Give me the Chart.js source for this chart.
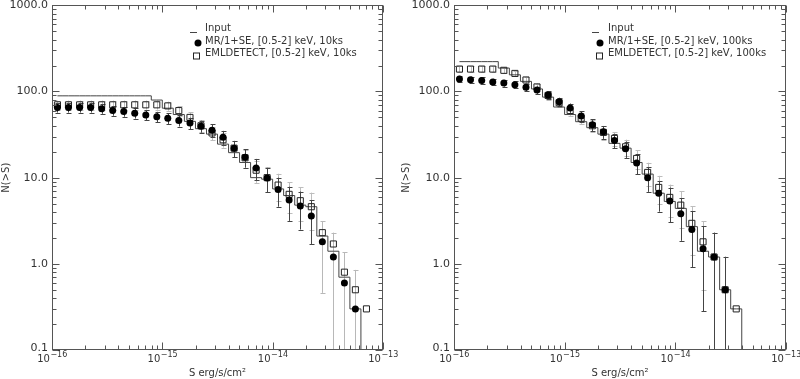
<!DOCTYPE html>
<html>
<head>
<meta charset="utf-8">
<script src="https://cdn.jsdelivr.net/npm/chart.js@4.4.1/dist/chart.umd.min.js"></script>
<style>
  body { margin: 0; background: #fff; }
  canvas { display: block; float: left; }
</style>
</head>
<body>
<canvas id="left" width="400" height="379"></canvas>
<canvas id="right" width="400" height="379"></canvas>
<script>
// flux bin centres, erg/s/cm^2
const fluxBins = [
  1.12e-16, 1.41e-16, 1.78e-16, 2.24e-16, 2.82e-16, 3.55e-16, 4.47e-16, 5.62e-16, 7.08e-16, 8.91e-16,
  1.12e-15, 1.41e-15, 1.78e-15, 2.24e-15, 2.82e-15, 3.55e-15, 4.47e-15, 5.62e-15, 7.08e-15, 8.91e-15,
  1.12e-14, 1.41e-14, 1.78e-14, 2.24e-14, 2.82e-14, 3.55e-14, 4.47e-14, 5.62e-14, 7.08e-14
];

// 10 ks panel
const input10 = [89, 89, 89, 89, 89, 89, 89, 89, 89, 79.5, 64, 54, 45, 37, 32, 24.5, 19.5, 15, 10, 9.6,
  7.4, 6.2, 4.8, 4.6, 2.1, 1.4, 0.7, 0.3, 0.01];
const mr10 = [65, 65, 65, 65, 63, 60, 58.5, 56, 53.5, 51, 49, 46, 43, 39.5, 35.5, 29.5, 22, 17.3, 12.9, 9.9,
  7.3, 5.5, 4.7, 3.6, 1.8, 1.2, 0.6, 0.3];
const mr10Err = [8.1, 8.1, 8.1, 8.1, 7.9, 7.7, 7.6, 7.5, 7.3, 7.1, 7.0, 6.8, 6.6, 6.3, 6.0, 5.4, 4.7, 4.2, 3.6, 3.1,
  2.7, 2.35, 2.2, 1.9, 1.34, 1.1, 0.77, 0.55];
const eml10 = [70, 70, 70, 70, 70, 70, 70, 70, 70, 70, 68, 60, 50, 40, 33, 27.5, 22, 17, 12.2, 10,
  8.2, 6.4, 5.4, 4.6, 2.3, 1.7, 0.8, 0.5, 0.3];
const eml10Err = [8.4, 8.4, 8.4, 8.4, 8.4, 8.4, 8.4, 8.4, 8.4, 8.4, 8.2, 7.7, 7.1, 6.3, 5.7, 5.2, 4.7, 4.1, 3.5, 3.2,
  2.9, 2.5, 2.3, 2.1, null, null, null, null, null];

// 100 ks panel
const input100 = [222, 222, 222, 222, 187, 156, 131, 107, 86, 66, 54, 44.6, 38, 32, 25, 22, 15, 11, 6.6, 5.3,
  4.4, 2.7, 1.4, 1.2, 0.5, 0.3, 0.01];
const mr100 = [140, 137, 134, 129, 125, 120, 112, 104, 91, 76, 64.5, 52, 41, 34, 27, 21.6, 14.8, 10, 6.6, 5.35,
  3.8, 2.5, 1.5, 1.2, 0.5];
const mr100Err = [11.8, 11.7, 11.6, 11.4, 11.2, 11.0, 10.6, 10.2, 9.5, 8.7, 8.0, 7.2, 6.4, 5.8, 5.2, 4.65, 3.85, 3.16, 2.57, 2.31,
  1.95, 1.58, 1.22, 1.1, 0.71];
const eml100 = [182, 182, 182, 182, 176, 162, 136, 113, 90, 74, 60, 49, 40, 33.5, 28.5, 22.8, 16.7, 11.5, 7.7, 5.9,
  4.8, 2.95, 1.8, 1.2, 0.5, 0.3];
const eml100Err = [13.5, 13.5, 13.5, 13.5, 13.3, 12.7, 11.7, 10.6, 9.5, 8.6, 7.7, 7.0, 6.3, 5.8, 5.3, 4.8, 4.1, 3.4, 2.8, 2.4,
  2.2, 1.7, 1.3, 1.1, null, null];

const legend10 = ['Input', 'MR/1+SE, [0.5-2] keV, 10ks', 'EMLDETECT, [0.5-2] keV, 10ks'];
const legend100 = ['Input', 'MR/1+SE, [0.5-2] keV, 100ks', 'EMLDETECT, [0.5-2] keV, 100ks'];

const xDecades = [1e-16, 1e-15, 1e-14, 1e-13];
const xTickExponents = ['−16', '−15', '−14', '−13'];
const yDecades = [0.1, 1, 10, 100, 1000];
const yTickLabels = ['0.1', '1.0', '10.0', '100.0', '1000.0'];

const FONT = 'DejaVu Sans';
const INK = '#333';
const AXIS = '#555';

const toPoints = (vals) => vals.map((v, i) => ({ x: fluxBins[i], y: v }));

// vertical error bars, drawn under the markers
const errorBars = {
  id: 'errorBars',
  beforeDatasetsDraw(chart) {
    const { ctx, chartArea: a, scales: { x, y } } = chart;
    ctx.save();
    ctx.beginPath();
    ctx.rect(a.left, a.top, a.right - a.left, a.bottom - a.top);
    ctx.clip();
    ctx.lineWidth = 1;
    const sets = chart.data.datasets.filter(d => d.errors).sort((p, q) => q.order - p.order);
    sets.forEach(ds => {
      ds.data.forEach((p, i) => {
        const e = ds.errors[i];
        if (e == null) return;
        const px = Math.round(x.getPixelForValue(p.x)) + 0.5;
        const top = y.getPixelForValue(p.y + e);
        const low = p.y - e;
        const bot = low > 0 ? y.getPixelForValue(low) : a.bottom;
        ctx.strokeStyle = (ds.grayFrom != null && i >= ds.grayFrom) ? '#b8b8b8' : ds.errorColor;
        ctx.beginPath();
        ctx.moveTo(px, top); ctx.lineTo(px, bot);
        ctx.moveTo(px - 2, Math.round(top) + 0.5); ctx.lineTo(px + 3, Math.round(top) + 0.5);
        if (low > 0) { ctx.moveTo(px - 2, Math.round(bot) + 0.5); ctx.lineTo(px + 3, Math.round(bot) + 0.5); }
        ctx.stroke();
      });
    });
    ctx.restore();
  }
};

// box frame with inward ticks on all four sides, tick labels, and the legend
const frame = {
  id: 'frame',
  afterDraw(chart, args, opts) {
    const { ctx, chartArea: a, scales: { x, y } } = chart;
    ctx.save();
    ctx.strokeStyle = AXIS;
    ctx.lineWidth = 1;
    const L = Math.round(a.left) + 0.5, R = Math.round(a.right) - 0.5;
    const T = Math.round(a.top) + 0.5, B = Math.round(a.bottom) - 0.5;
    ctx.strokeRect(L, T, R - L, B - T);

    ctx.beginPath();
    for (let d = 0; d < xDecades.length; d++) {
      for (let m = 1; m < 10; m++) {
        const v = xDecades[d] * m;
        if (v > 1e-13 * 1.0001) break;
        const px = Math.round(x.getPixelForValue(v)) + 0.5;
        const len = m === 1 ? 7 : 4;
        ctx.moveTo(px, B); ctx.lineTo(px, B - len);
        ctx.moveTo(px, T); ctx.lineTo(px, T + len);
      }
    }
    for (let d = 0; d < yDecades.length; d++) {
      for (let m = 1; m < 10; m++) {
        const v = yDecades[d] * m;
        if (v > 1000 * 1.0001) break;
        const py = Math.round(y.getPixelForValue(v)) + 0.5;
        const len = m === 1 ? 7 : 4;
        ctx.moveTo(L, py); ctx.lineTo(L + len, py);
        ctx.moveTo(R, py); ctx.lineTo(R - len, py);
      }
    }
    ctx.stroke();

    // y tick labels
    ctx.fillStyle = INK;
    ctx.font = '11px "' + FONT + '"';
    ctx.textAlign = 'right';
    ctx.textBaseline = 'middle';
    yDecades.forEach((v, i) => {
      const py = Math.max(y.getPixelForValue(v), 5);
      ctx.fillText(yTickLabels[i], a.left - 4, Math.min(py, a.bottom - 2));
    });

    // x tick labels: 10 with a raised exponent
    ctx.textAlign = 'left';
    ctx.textBaseline = 'alphabetic';
    xDecades.forEach((v, i) => {
      const px = x.getPixelForValue(v);
      ctx.font = '10px "' + FONT + '"';
      const wb = ctx.measureText('10').width;
      ctx.font = '8px "' + FONT + '"';
      const we = ctx.measureText(xTickExponents[i]).width;
      const x0 = px - (wb + we) / 2;
      ctx.font = '10px "' + FONT + '"';
      ctx.fillText('10', x0, 362);
      ctx.font = '8px "' + FONT + '"';
      ctx.fillText(xTickExponents[i], x0 + wb + 0.5, 357);
    });

    // legend
    const lg = opts.legend;
    ctx.font = '10px "' + FONT + '"';
    ctx.textAlign = 'left';
    ctx.textBaseline = 'middle';
    const labels = chart.data.datasets.map(d => d.label);
    ctx.fillText(labels[0], lg.textX, 28.5);
    ctx.fillText(labels[1], lg.textX, 41);
    ctx.fillText(labels[2], lg.textX, 53.5);
    ctx.strokeStyle = '#444';
    ctx.beginPath();
    ctx.moveTo(lg.lineX, 32.5); ctx.lineTo(lg.lineX + 7, 32.5);
    ctx.stroke();
    ctx.fillStyle = '#000';
    ctx.beginPath();
    ctx.arc(lg.circleX, 43, 3.5, 0, Math.PI * 2);
    ctx.fill();
    ctx.strokeStyle = '#222';
    ctx.strokeRect(lg.squareX - 3, 53, 6, 6);
    ctx.restore();
  }
};

function makePanel(id, inputVals, mrVals, mrErr, emlVals, emlErr, labels, layout) {
  return new Chart(document.getElementById(id), {
    type: 'scatter',
    data: {
      datasets: [
        {
          label: labels[0],
          data: toPoints(inputVals),
          showLine: true,
          stepped: 'middle',
          borderColor: '#444',
          borderWidth: 1,
          pointRadius: 0,
          order: 3
        },
        {
          label: labels[1],
          data: toPoints(mrVals),
          errors: mrErr,
          errorColor: '#444',
          grayFrom: layout.grayFrom,
          pointStyle: 'circle',
          pointRadius: 3.5,
          backgroundColor: '#000',
          borderColor: '#000',
          borderWidth: 0,
          order: 1
        },
        {
          label: labels[2],
          data: toPoints(emlVals),
          errors: emlErr,
          errorColor: '#bdbdbd',
          pointStyle: 'rect',
          pointRadius: 4.3,
          backgroundColor: 'rgba(0,0,0,0)',
          borderColor: '#222',
          borderWidth: 1,
          order: 2
        }
      ]
    },
    options: {
      responsive: false,
      animation: false,
      devicePixelRatio: 1,
      layout: { padding: { top: 0, right: layout.padRight, bottom: 0, left: 0 } },
      plugins: {
        legend: { display: false },
        tooltip: { enabled: false },
        frame: { legend: layout.legend }
      },
      scales: {
        x: {
          type: 'logarithmic',
          position: 'bottom',
          min: 1e-16,
          max: 1e-13,
          afterBuildTicks: (s) => { s.ticks = xDecades.map(v => ({ value: v })); },
          afterFit: (s) => { s.height = 29; s.paddingLeft = 0; s.paddingRight = 0; },
          grid: { display: false, drawTicks: false },
          border: { display: false },
          ticks: { display: false },
          title: {
            display: true,
            text: 'S erg/s/cm²',
            color: INK,
            font: { family: FONT, size: 10 },
            padding: { top: 0, bottom: 0 }
          }
        },
        y: {
          type: 'logarithmic',
          position: 'left',
          min: 0.1,
          max: 1000,
          afterBuildTicks: (s) => { s.ticks = yDecades.map(v => ({ value: v })); },
          afterFit: (s) => { s.width = layout.yWidth; s.paddingTop = 0; s.paddingBottom = 0; },
          grid: { display: false, drawTicks: false },
          border: { display: false },
          ticks: { display: false },
          title: {
            display: true,
            text: 'N(>S)',
            color: INK,
            font: { family: FONT, size: 10 },
            padding: { top: 0, bottom: 0 }
          }
        }
      }
    },
    plugins: [errorBars, frame]
  });
}

makePanel('left', input10, mr10, mr10Err, eml10, eml10Err, legend10, {
  padRight: 17, yWidth: 52, grayFrom: 24,
  legend: { textX: 205, lineX: 190, circleX: 198, squareX: 196.5 }
});
makePanel('right', input100, mr100, mr100Err, eml100, eml100Err, legend100, {
  padRight: 14, yWidth: 54, grayFrom: null,
  legend: { textX: 208, lineX: 192, circleX: 200, squareX: 199.5 }
});
</script>
</body>
</html>
